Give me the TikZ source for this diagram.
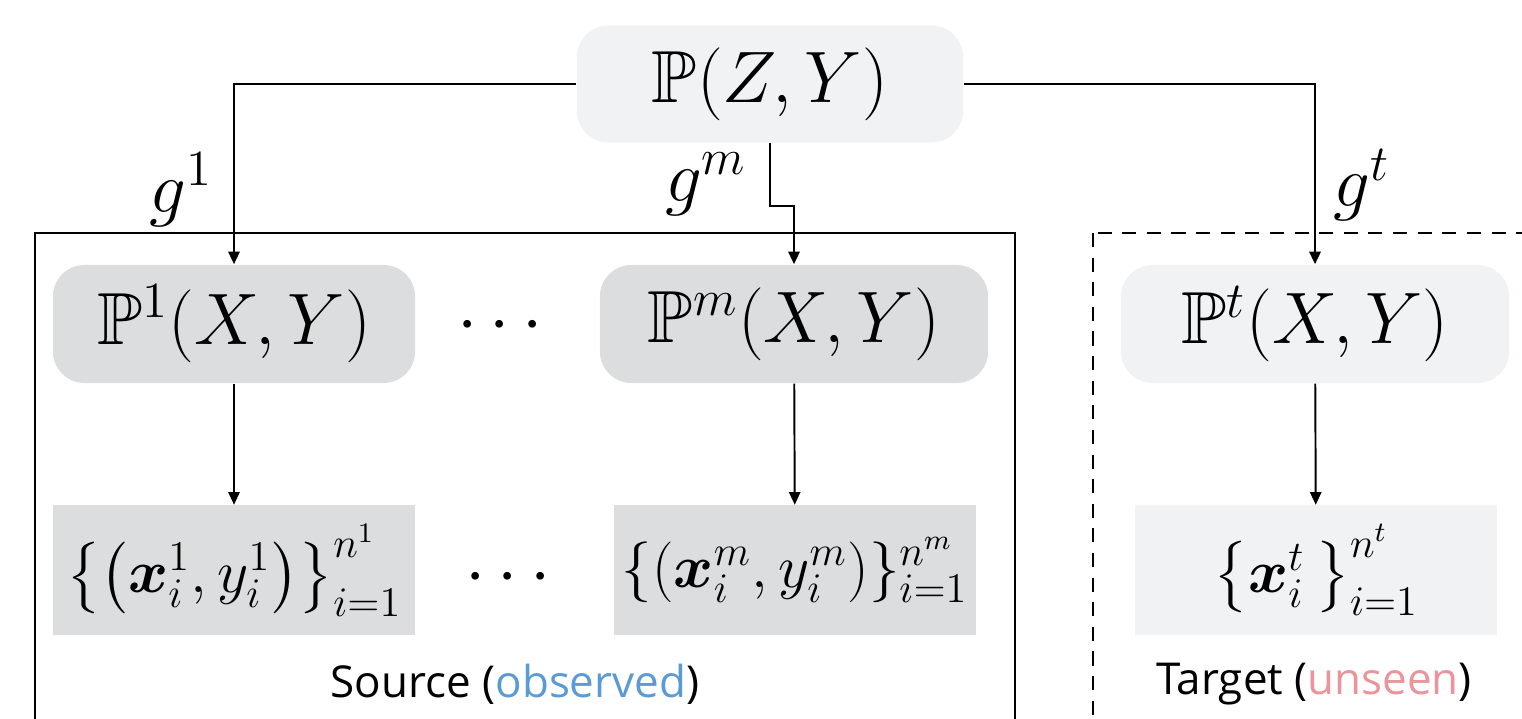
\documentclass[tikz,border=0pt]{standalone}
\usepackage{amsmath,amssymb,bm}
\usepackage{fontspec}
\setsansfont{Open Sans}
\usetikzlibrary{positioning,arrows.meta}
\definecolor{boxGray}{HTML}{DCDDDF}
\definecolor{paleGray}{HTML}{F1F2F4}
\definecolor{obsBlue}{HTML}{5B9BD5}
\definecolor{unseenPink}{HTML}{E9959B}
\newcommand{\mathsize}{\fontsize{21}{25}\selectfont}
\newcommand{\samplesize}{\fontsize{17}{21}\selectfont}
\tikzset{
    distbox/.style={fill=boxGray,rounded corners=9pt,inner sep=0pt,
        minimum width=3.62cm,minimum height=1.18cm,align=center,font=\mathsize},
    palebox/.style={distbox,fill=paleGray},
    samplebox/.style={fill=boxGray,inner sep=0pt,
        minimum width=3.62cm,minimum height=1.29cm,align=center,font=\samplesize},
    palesample/.style={samplebox,fill=paleGray},
    maplabel/.style={font=\mathsize,inner sep=0pt},
    caption/.style={font=\sffamily\fontsize{12.5}{15}\selectfont,inner sep=0pt},
    arrow/.style={-{Triangle[length=3.6pt,width=3.2pt]},line width=0.7pt},
    thinarrow/.style={-{Triangle[length=3.6pt,width=3.2pt]},line width=0.55pt},
    frame/.style={line width=0.55pt},
    dashframe/.style={line width=0.55pt,dashed,dash pattern=on 4pt off 3pt}
}
\begin{document}
\begin{tikzpicture}[x=0.01cm,y=-0.01cm]
    \useasboundingbox (0,0) rectangle (1522,719);
    \clip (0,0) rectangle (1522,719);
    % frames
    \draw[frame] (35,233) rectangle (1015,760);
    \draw[dashframe] (1093,233) rectangle (1560,760);
    % joint distribution
    \node[palebox,minimum width=3.86cm,minimum height=1.17cm] (pz) at (770,84) {$\mathbb{P}(Z,Y)$};
    % domain distributions
    \node[distbox] (p1) at (234,324) {$\mathbb{P}^1(X,Y)$};
    \node[distbox,minimum width=3.88cm] (pm) at (794,324) {$\mathbb{P}^m(X,Y)$};
    \node[palebox,minimum width=3.88cm] (pt) at (1315,324) {$\mathbb{P}^t(X,Y)$};
    \node[maplabel] (dotsa) at (506,326) {$\cdots$};
    % samples
    \node[samplebox] (s1) at (234,570) {$\big\{\big(\bm{x}_i^1,y_i^1\big)\big\}_{i=1}^{n^1}$};
    \node[samplebox] (sm) at (795,570) {$\{(\bm{x}_i^m,y_i^m)\}_{i=1}^{n^m}$};
    \node[palesample] (st) at (1316,570) {$\big\{\bm{x}_i^t\,\big\}_{i=1}^{n^t}$};
    \node[maplabel] (dotsb) at (514,578) {$\cdots$};
    % captions
    \node[caption] (srclabel) at (515,684) {Source (\textcolor{obsBlue}{observed})};
    \node[caption] (tgtlabel) at (1314,684) {Target (\textcolor{unseenPink}{unseen})};
    % mappings
    \node[maplabel] (g1) at (181,190) {$g^1$};
    \node[maplabel] (gm) at (706,184) {$g^m$};
    \node[maplabel] (gt) at (1362,185) {$g^t$};
    \draw[arrow] (pz.west) -| (p1.north);
    \draw[arrow] (pz.east) -| (pt.north);
    \draw[arrow] (pz.south) -- ++(0,63) -| (pm.north);
    \draw[thinarrow] (p1) -- (s1);
    \draw[thinarrow] (pm) -- (sm);
    \draw[thinarrow] (pt) -- (st);
\end{tikzpicture}
\end{document}
